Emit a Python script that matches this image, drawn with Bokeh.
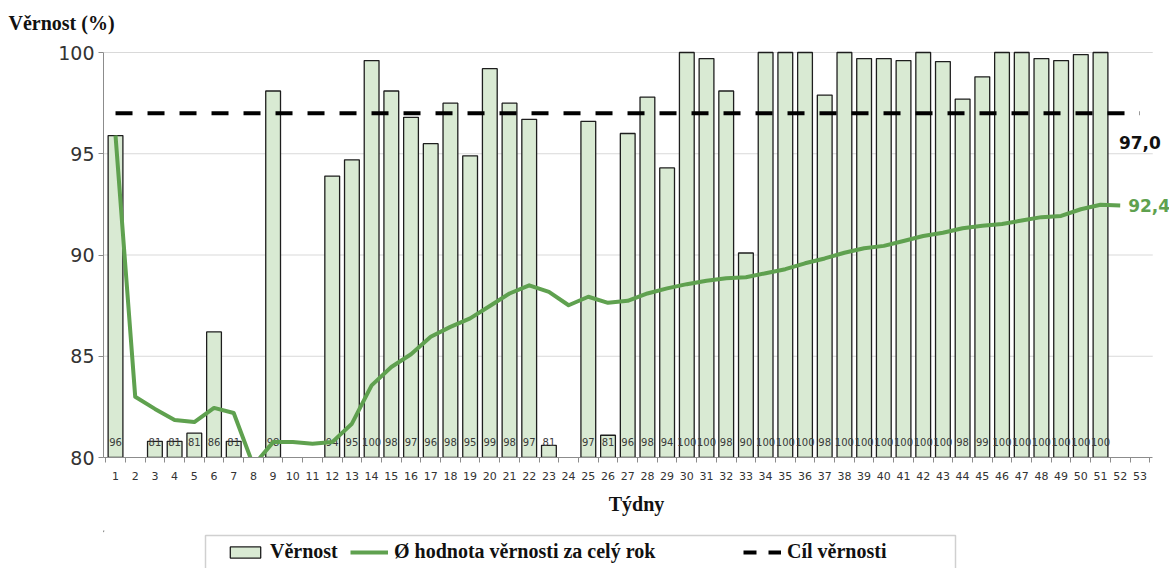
from bokeh.plotting import figure
from bokeh.layouts import column
from bokeh.models import Range1d, FixedTicker, Legend, LegendItem, Label
from bokeh.core.properties import value
from bokeh.embed import file_html
from bokeh.resources import INLINE

# ---------------- data ----------------
weeks = list(range(1, 54))
vernost = [95.9, None, 80.8, 80.8, 81.2, 86.2, 80.8, None, 98.1, None,
           None, 93.9, 94.7, 99.6, 98.1, 96.8, 95.5, 97.5, 94.9, 99.2,
           97.5, 96.7, 80.6, None, 96.6, 81.1, 96.0, 97.8, 94.3, 100.0,
           99.7, 98.1, 90.1, 100.0, 100.0, 100.0, 97.9, 100.0, 99.7, 99.7,
           99.6, 100.0, 99.55, 97.7, 98.8, 100.0, 100.0, 99.7, 99.6, 99.9,
           100.0, None, None]
bar_labels = ["96", "", "81", "81", "81", "86", "81", "", "98", "",
              "", "94", "95", "100", "98", "97", "96", "98", "95", "99",
              "98", "97", "81", "", "97", "81", "96", "98", "94", "100",
              "100", "98", "90", "100", "100", "100", "98", "100", "100", "100",
              "100", "100", "100", "98", "99", "100", "100", "100", "100", "100",
              "100", "", ""]
avg_weeks = list(range(1, 53))
avg = [95.9, 83.0, 82.4, 81.85, 81.75, 82.45, 82.2, 79.6, 80.76, 80.76,
       80.68, 80.76, 81.67, 83.56, 84.47, 85.1, 85.96, 86.45, 86.87, 87.48,
       88.1, 88.5, 88.18, 87.52, 87.94, 87.64, 87.74, 88.1, 88.35, 88.56,
       88.73, 88.85, 88.9, 89.1, 89.3, 89.59, 89.83, 90.11, 90.33, 90.45,
       90.69, 90.94, 91.1, 91.32, 91.44, 91.53, 91.7, 91.87, 91.93, 92.26,
       92.48, 92.45]
target = 97.0
y_ticks = [80, 85, 90, 95, 100]
avg_label = "92,4"
target_label = "97,0"
legend_labels = ["Věrnost", "Ø hodnota věrnosti za celý rok", "Cíl věrnosti"]

bar_x = [w for w, v in zip(weeks, vernost) if v is not None]
bar_top = [v for v in vernost if v is not None]
bar_txt = [t for t, v in zip(bar_labels, vernost) if v is not None]

GREEN = "#5fa14f"
BAR_FILL = "#d9ead3"
BAR_LINE = "#1e1e1e"
SANS = "DejaVu Sans"
SERIF = "Liberation Serif"

# axis extents (category axis runs a bit beyond first/last week)
x_lo, x_hi = 0.39, 53.65

W, H, LH = 1169, 530, 38
left, bottom_b, top_b = 103, 73, 40
frame_w = W - left
frame_h = H - bottom_b - top_b
px_per_week = 19.7
px_per_unit = 405 / (y_ticks[-1] - y_ticks[0])
x_end = x_lo + frame_w / px_per_week
y_end = y_ticks[-1] + (frame_h - 405) / px_per_unit

p = figure(width=W, height=H, output_backend="svg", toolbar_location=None,
           x_range=Range1d(x_lo, x_end), y_range=Range1d(y_ticks[0], y_end),
           min_border_left=left, min_border_right=0, min_border_top=top_b,
           min_border_bottom=bottom_b)
p.outline_line_color = None
p.background_fill_color = "white"

# title
p.title.text = "Věrnost (%)"
p.title.text_font = SERIF
p.title.text_font_style = "bold"
p.title.text_font_size = "20px"
p.title.text_color = "#111111"
p.title.align = "left"
p.title.offset = -(left - 8)
p.title.standoff = 14

# grid (drawn only over the axis extent)
p.xgrid.visible = False
p.ygrid.visible = False
p.segment(x0=[x_lo] * 4, x1=[x_hi] * 4, y0=y_ticks[1:], y1=y_ticks[1:],
          line_color="#d9d9d9", line_width=1)

bars = p.vbar(x=bar_x, top=bar_top, bottom=y_ticks[0], width=0.75,
              fill_color=BAR_FILL, line_color=BAR_LINE, line_width=1.3)
p.text(x=bar_x, y=[y_ticks[0] + 0.75] * len(bar_x), text=bar_txt,
       text_align="center", text_baseline="middle", text_font=value(SANS),
       text_font_size="10px", text_color="#3a3a3a")
p.line([weeks[0], weeks[-1]], [target, target], line_color="black",
       line_width=4, line_dash="17 15")
p.line(avg_weeks, avg, line_color=GREEN, line_width=4, line_join="round")

# y axis
ya = p.yaxis[0]
ya.ticker = FixedTicker(ticks=y_ticks)
ya.bounds = (y_ticks[0], y_ticks[-1])
ya.major_label_text_font = SANS
ya.major_label_text_font_size = "19px"
ya.major_label_text_color = "#333333"
ya.axis_line_color = "#8c8c8c"
ya.major_tick_line_color = "#8c8c8c"
ya.major_tick_out = 5
ya.major_tick_in = 0
ya.minor_tick_line_color = None
ya.major_label_standoff = 4

# x axis
xa = p.xaxis[0]
xa.ticker = FixedTicker(ticks=weeks, minor_ticks=[w - 0.5 for w in weeks] + [weeks[-1] + 0.5])
xa.bounds = (x_lo, x_hi)
xa.major_tick_out = 0
xa.major_tick_in = 0
xa.minor_tick_out = 5
xa.minor_tick_in = 0
xa.minor_tick_line_color = "#8c8c8c"
xa.axis_line_color = "#8c8c8c"
xa.major_label_text_font = SANS
xa.major_label_text_font_size = "11px"
xa.major_label_text_color = "#333333"
xa.major_label_standoff = 9
xa.axis_label = "Týdny"
xa.axis_label_text_font = SERIF
xa.axis_label_text_font_style = "bold"
xa.axis_label_text_font_size = "20px"
xa.axis_label_text_color = "#111111"
xa.axis_label_standoff = 10

# value labels at the right end
p.add_layout(Label(x=weeks[-1], y=target, y_offset=-29, text=target_label,
                   text_align="center", text_baseline="middle", text_font=SANS,
                   text_font_style="bold", text_font_size="17px", text_color="#111111"))
p.add_layout(Label(x=avg_weeks[-1], y=avg[-1], x_offset=8, text=avg_label,
                   text_align="left", text_baseline="middle", text_font=SANS,
                   text_font_style="bold", text_font_size="17px", text_color=GREEN))

# ---------------- legend strip (own small figure, pixel coordinates) ----------------
# the column layout aligns this strip's frame with the main frame, so its
# x range is given in page pixels from the frame's left edge
lp = figure(width=W, height=LH, output_backend="svg", toolbar_location=None,
            title=None,
            x_range=Range1d(left, W), y_range=Range1d(LH, 0),
            min_border_left=left, min_border_right=0, min_border_top=0,
            min_border_bottom=0, x_axis_type=None, y_axis_type=None)
lp.outline_line_color = None
lp.xgrid.visible = False
lp.ygrid.visible = False
# legend frame
lp.quad(left=[205], right=[955], top=[5], bottom=[LH + 10], fill_color="white",
        line_color="#d0d0d0", line_width=1.5)
# legend sample glyphs (styles only, placed outside the visible range)
r_bar = lp.vbar(x=[-500], top=[0], bottom=[1], width=1, fill_color=BAR_FILL,
                line_color=BAR_LINE, line_width=1.3)
r_avg = lp.line(x=[-500, -499], y=[0, 0], line_color=GREEN, line_width=4)
r_tgt = lp.line(x=[-500, -499], y=[0, 0], line_color="black", line_width=4,
                line_dash="13 12")

for lbl, rend, xpos in zip(legend_labels, [r_bar, r_avg, r_tgt], [226, 350, 743]):
    lg = Legend(items=[LegendItem(label=lbl, renderers=[rend])],
                location=(xpos - left, 5), orientation="horizontal",
                label_text_font=SERIF, label_text_font_style="bold",
                label_text_font_size="20px", label_text_color="#111111",
                glyph_width=38, glyph_height=14, label_standoff=6,
                padding=5, margin=0, spacing=0,
                border_line_color=None, background_fill_alpha=0)
    lp.add_layout(lg)

layout = column(p, lp, spacing=0)
open("out.html", "w").write(file_html(layout, INLINE))
